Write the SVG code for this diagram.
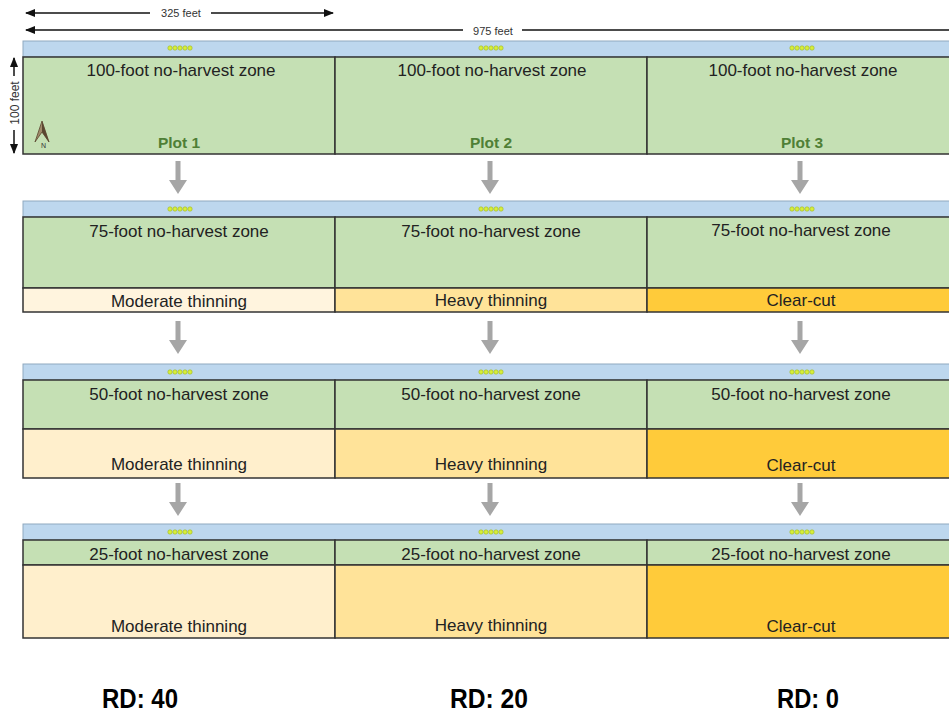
<svg xmlns="http://www.w3.org/2000/svg" width="949" height="713" viewBox="0 0 949 713">
<defs>
<style>
.t{font-family:"Liberation Sans",Arial,sans-serif;font-size:17px;fill:#222;text-anchor:middle}
.dim{font-family:"Liberation Sans",Arial,sans-serif;font-size:11px;fill:#333;text-anchor:middle}
.dimv{font-family:"Liberation Sans",Arial,sans-serif;font-size:12px;fill:#333;text-anchor:middle}
.plot{font-family:"Liberation Sans",Arial,sans-serif;font-size:15.5px;font-weight:bold;fill:#4f7f36;text-anchor:middle}
.rd{font-family:"Liberation Sans",Arial,sans-serif;font-size:27px;font-weight:bold;fill:#000;text-anchor:middle}
.blue{fill:#bdd7ee;stroke:#8fa9c0;stroke-width:1}
.green{fill:#c5e0b4;stroke:#333;stroke-width:1.5}
.mod1{fill:#fff4de;stroke:#333;stroke-width:1.5}
.mod{fill:#ffefcc;stroke:#333;stroke-width:1.5}
.heavy{fill:#ffe399;stroke:#333;stroke-width:1.5}
.clear{fill:#ffcb3a;stroke:#333;stroke-width:1.5}
.dot{fill:#d7ee3a;stroke:#9cb52a;stroke-width:0.6}
.arr{fill:#a6a6a6}
.dl{stroke:#111;stroke-width:1.5;fill:none}
</style>
<g id="dots"><circle class="dot" cx="-10" cy="0" r="2.2"/><circle class="dot" cx="-5" cy="0" r="2.2"/><circle class="dot" cx="0" cy="0" r="2.2"/><circle class="dot" cx="5" cy="0" r="2.2"/><circle class="dot" cx="10" cy="0" r="2.2"/></g>
<path id="down" class="arr" d="M-2.5,0 H2.5 V19 H9 L0,33 L-9,19 H-2.5 Z"/>
<marker id="ah" viewBox="0 0 10 10" refX="9" refY="5" markerWidth="7" markerHeight="7" orient="auto-start-reverse"><path d="M0,1 L10,5 L0,9 Z" fill="#111"/></marker>
</defs>
<rect width="949" height="713" fill="#fff"/>

<g id="dimensions">
<line class="dl" x1="26" y1="13" x2="150" y2="13" marker-start="url(#ah)"/>
<line class="dl" x1="211" y1="13" x2="333" y2="13" marker-end="url(#ah)"/>
<text class="dim" x="181" y="17">325 feet</text>
<line class="dl" x1="26" y1="30" x2="463" y2="30" marker-start="url(#ah)"/>
<line class="dl" x1="522" y1="30" x2="949" y2="30"/>
<text class="dim" x="493" y="35">975 feet</text>
<line class="dl" x1="14" y1="58" x2="14" y2="76" marker-start="url(#ah)"/>
<line class="dl" x1="14" y1="130" x2="14" y2="153" marker-end="url(#ah)"/>
<text class="dimv" transform="translate(18.5,103) rotate(-90)">100 feet</text>
</g>

<g id="row1">
<rect class="blue" x="23" y="41" width="934" height="16"/>
<g id="r1-p1"><rect class="green" x="23" y="57" width="312" height="97"/><use href="#dots" x="180" y="48"/><text class="t" x="181" y="76">100-foot no-harvest zone</text><text class="plot" x="179" y="148">Plot 1</text></g>
<g id="r1-p2"><rect class="green" x="335" y="57" width="312" height="97"/><use href="#dots" x="491" y="48"/><text class="t" x="492" y="76">100-foot no-harvest zone</text><text class="plot" x="491" y="148">Plot 2</text></g>
<g id="r1-p3"><rect class="green" x="647" y="57" width="310" height="97"/><use href="#dots" x="802" y="48"/><text class="t" x="803" y="76">100-foot no-harvest zone</text><text class="plot" x="802" y="148">Plot 3</text></g>
</g>

<g id="compass">
<path d="M42,121 L35,142 L42,132 L49,142 Z" fill="#a08a6a" stroke="#5a4630" stroke-width="0.8"/>
<path d="M42,121 L42,132 L49,142 Z" fill="#5a4630"/>
<text x="41" y="148" style="font-family:'Liberation Sans',Arial,sans-serif;font-size:7px;fill:#333">N</text>
</g>

<g id="row2">
<rect class="blue" x="23" y="201" width="934" height="16"/>
<g id="r2-p1"><rect class="green" x="23" y="217" width="312" height="71"/><rect class="mod1" x="23" y="288" width="312" height="24"/><use href="#dots" x="180" y="209"/><text class="t" x="179" y="237">75-foot no-harvest zone</text><text class="t" x="179" y="307">Moderate thinning</text></g>
<g id="r2-p2"><rect class="green" x="335" y="217" width="312" height="71"/><rect class="heavy" x="335" y="288" width="312" height="24"/><use href="#dots" x="491" y="209"/><text class="t" x="491" y="237">75-foot no-harvest zone</text><text class="t" x="491" y="306">Heavy thinning</text></g>
<g id="r2-p3"><rect class="green" x="647" y="217" width="310" height="71"/><rect class="clear" x="647" y="288" width="310" height="24"/><use href="#dots" x="802" y="209"/><text class="t" x="801" y="236">75-foot no-harvest zone</text><text class="t" x="801" y="306">Clear-cut</text></g>
</g>

<g id="row3">
<rect class="blue" x="23" y="364" width="934" height="16"/>
<g id="r3-p1"><rect class="green" x="23" y="380" width="312" height="49"/><rect class="mod" x="23" y="429" width="312" height="49"/><use href="#dots" x="180" y="372"/><text class="t" x="179" y="400">50-foot no-harvest zone</text><text class="t" x="179" y="470">Moderate thinning</text></g>
<g id="r3-p2"><rect class="green" x="335" y="380" width="312" height="49"/><rect class="heavy" x="335" y="429" width="312" height="49"/><use href="#dots" x="491" y="372"/><text class="t" x="491" y="400">50-foot no-harvest zone</text><text class="t" x="491" y="470">Heavy thinning</text></g>
<g id="r3-p3"><rect class="green" x="647" y="380" width="310" height="49"/><rect class="clear" x="647" y="429" width="310" height="49"/><use href="#dots" x="802" y="372"/><text class="t" x="801" y="400">50-foot no-harvest zone</text><text class="t" x="801" y="471">Clear-cut</text></g>
</g>

<g id="row4">
<rect class="blue" x="23" y="524" width="934" height="16"/>
<g id="r4-p1"><rect class="green" x="23" y="540" width="312" height="25"/><rect class="mod" x="23" y="565" width="312" height="73"/><use href="#dots" x="180" y="532"/><text class="t" x="179" y="560">25-foot no-harvest zone</text><text class="t" x="179" y="632">Moderate thinning</text></g>
<g id="r4-p2"><rect class="green" x="335" y="540" width="312" height="25"/><rect class="heavy" x="335" y="565" width="312" height="73"/><use href="#dots" x="491" y="532"/><text class="t" x="491" y="560">25-foot no-harvest zone</text><text class="t" x="491" y="631">Heavy thinning</text></g>
<g id="r4-p3"><rect class="green" x="647" y="540" width="310" height="25"/><rect class="clear" x="647" y="565" width="310" height="73"/><use href="#dots" x="802" y="532"/><text class="t" x="801" y="560">25-foot no-harvest zone</text><text class="t" x="801" y="632">Clear-cut</text></g>
</g>

<g id="connectors">
<use href="#down" x="178" y="161"/><use href="#down" x="490" y="161"/><use href="#down" x="800" y="161"/>
<use href="#down" x="178" y="321"/><use href="#down" x="490" y="321"/><use href="#down" x="800" y="321"/>
<use href="#down" x="178" y="483"/><use href="#down" x="490" y="483"/><use href="#down" x="800" y="483"/>
</g>

<g id="labels">
<text class="rd" x="140" y="708" textLength="76" lengthAdjust="spacingAndGlyphs">RD: 40</text>
<text class="rd" x="489" y="708" textLength="78" lengthAdjust="spacingAndGlyphs">RD: 20</text>
<text class="rd" x="808" y="708" textLength="62" lengthAdjust="spacingAndGlyphs">RD: 0</text>
</g>
</svg>
